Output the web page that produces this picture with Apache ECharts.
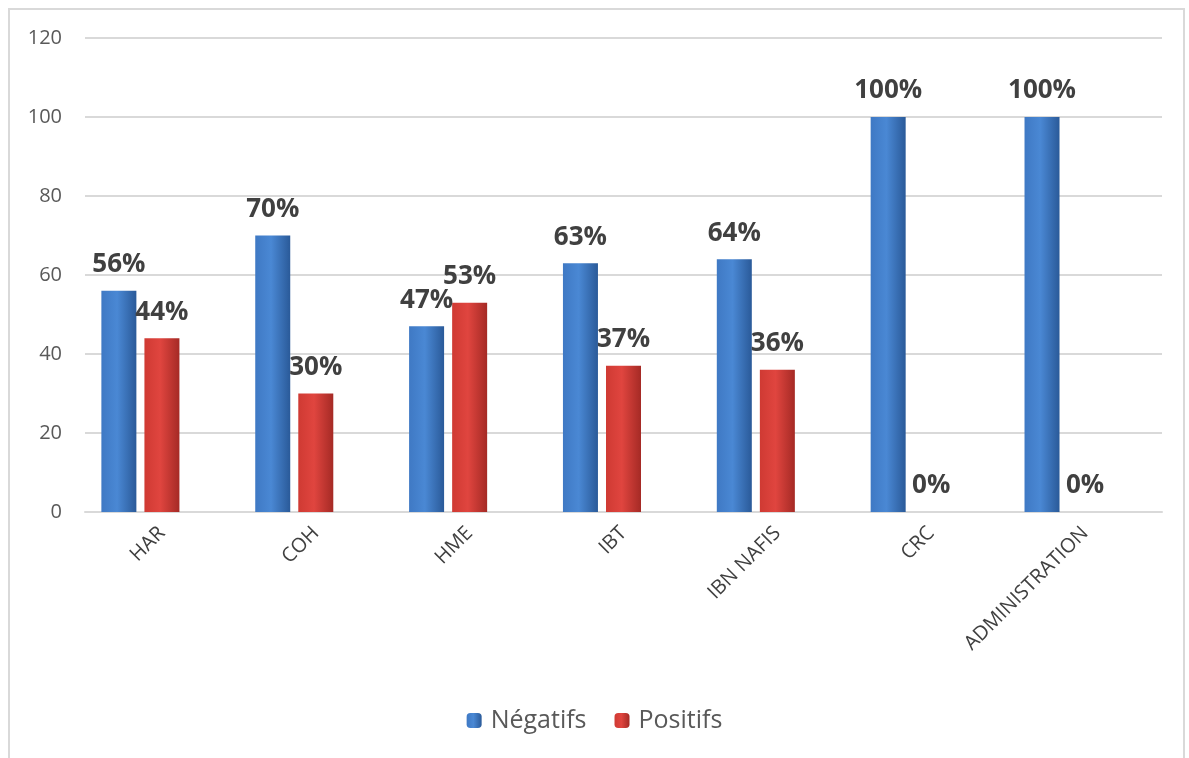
<!DOCTYPE html>
<html>
<head>
<meta charset="utf-8">
<script src="https://cdn.jsdelivr.net/npm/echarts@6/dist/echarts.min.js"></script>
<style>
  html, body { margin: 0; padding: 0; background: #fff; }
  #frame {
    position: absolute; left: 8px; top: 8px; width: 1177px; height: 760px;
    border: 2px solid #d9d9d9; border-bottom: none; box-sizing: border-box;
  }
  #barChart { position: absolute; left: 0; top: 0; width: 1189px; height: 758px; }
</style>
</head>
<body>
<div id="frame"></div>
<div id="barChart"></div>
<script>
  // categories and values (percent)
  let categories = ['HAR', 'COH', 'HME', 'IBT', 'IBN NAFIS', 'CRC', 'ADMINISTRATION']
  let negatifs = [56, 70, 47, 63, 64, 100, 100]
  let positifs = [44, 30, 53, 37, 36, 0, 0]
  // excel chart had an empty third series which shifts the bar pair left
  let emptySeries = [null, null, null, null, null, null, null]
  let yTicks = [0, 20, 40, 60, 80, 100, 120]

  const font = 'Open Sans'

  function barGradient(left, mid, right) {
    return new echarts.graphic.LinearGradient(0, 0, 1, 0, [
      { offset: 0, color: left },
      { offset: 0.45, color: mid },
      { offset: 1, color: right }
    ])
  }

  const labelStyle = {
    show: true,
    position: 'top',
    distance: 13,
    formatter: '{c}%',
    color: '#404040',
    fontFamily: font,
    fontWeight: 'bold',
    fontSize: 26
  }

  const option = {
    backgroundColor: 'transparent',
    animation: false,
    grid: {
      left: 85,
      right: 27,
      top: 38,
      bottom: 246
    },
    legend: {
      bottom: 20,
      left: 'center',
      data: ['Négatifs', 'Positifs'],
      itemWidth: 15,
      itemHeight: 15,
      itemGap: 28,
      textStyle: {
        color: '#595959',
        fontFamily: font,
        fontSize: 25,
        padding: [0, 0, 0, 4]
      }
    },
    xAxis: {
      type: 'category',
      data: categories,
      axisLine: { show: true, lineStyle: { color: '#d9d9d9', width: 2 } },
      axisTick: { show: false },
      axisLabel: {
        rotate: 45,
        interval: 0,
        margin: 18,
        color: '#404040',
        fontFamily: font,
        fontSize: 20
      }
    },
    yAxis: {
      type: 'value',
      min: 0,
      max: yTicks[yTicks.length - 1],
      interval: yTicks[1] - yTicks[0],
      axisLine: { show: false },
      axisTick: { show: false },
      splitLine: { lineStyle: { color: '#d9d9d9', width: 2 } },
      axisLabel: {
        margin: 23,
        color: '#595959',
        fontFamily: font,
        fontSize: 20
      }
    },
    series: [
      {
        name: 'Négatifs',
        type: 'bar',
        barWidth: 35,
        barGap: '23%',
        data: negatifs,
        itemStyle: {
          color: barGradient('#3f79c4', '#4a88d4', '#2a5a99')
        },
        label: labelStyle
      },
      {
        name: 'Positifs',
        type: 'bar',
        barWidth: 35,
        barGap: '23%',
        data: positifs,
        itemStyle: {
          color: barGradient('#cf3a33', '#e0453f', '#a52a25')
        },
        label: labelStyle
      },
      {
        name: 'vide',
        type: 'bar',
        barWidth: 35,
        barGap: '23%',
        data: emptySeries
      }
    ]
  }

  let eChart = echarts.init(document.getElementById('barChart'), null, { renderer: 'canvas' })
  eChart.setOption(option)
  window.addEventListener('resize', () => {
    eChart.resize()
  })
</script>
</body>
</html>
